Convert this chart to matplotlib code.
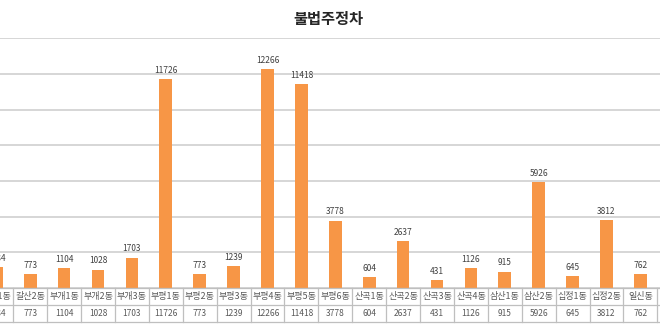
import matplotlib
matplotlib.use("Agg")
import matplotlib.pyplot as plt
import matplotlib.transforms as mtransforms

plt.rcParams['font.family'] = ['Noto Sans CJK KR', 'DejaVu Sans']

categories = ["갈산1동", "갈산2동", "부개1동", "부개2동", "부개3동",
              "부평1동", "부평2동", "부평3동", "부평4동", "부평5동", "부평6동",
              "산곡1동", "산곡2동", "산곡3동", "산곡4동",
              "삼산1동", "삼산2동", "십정1동", "십정2동", "일신동"]
values = [1184, 773, 1104, 1028, 1703,
          11726, 773, 1239, 12266, 11418, 3778,
          604, 2637, 431, 1126,
          915, 5926, 645, 3812, 762]
title = "불법주정차"

bar_color = "#F79646"
grid_color = "#D0D0D0"
table_color = "#BFBFBF"

fig = plt.figure(figsize=(6.6, 3.3), dpi=100)
ax = fig.add_axes([0.0, 0.1273, 1.0, 0.757])

x = list(range(len(categories)))
ax.bar(x, values, width=0.375, color=bar_color, zorder=3)

ax.set_ylim(0, 14000)
ax.set_xlim(0.108, 19.577)
ax.set_yticks(range(0, 14001, 2000))
ax.yaxis.grid(True, color=grid_color, linewidth=1.2, zorder=0)
ax.tick_params(left=False, bottom=False, labelleft=False, labelbottom=False)
for s in ax.spines.values():
    s.set_visible(False)

for xi, v in zip(x, values):
    ax.annotate(str(v), (xi, v), xytext=(0, 3), textcoords="offset points",
                ha="center", va="bottom", fontsize=6, color="#404040",
                annotation_clip=False)

# data table below the axis
trans = mtransforms.blended_transform_factory(ax.transData, ax.transAxes)
row_h = 0.068
for yy in (0, -row_h, -2 * row_h):
    ax.plot([0.108 - 1, 19.577 + 1], [yy, yy], transform=trans, color=table_color,
            linewidth=0.9, clip_on=False, zorder=4)
for i in range(-1, len(categories) + 1):
    ax.plot([i + 0.5, i + 0.5], [0, -2 * row_h], transform=trans, color=table_color,
            linewidth=0.9, clip_on=False, zorder=4)
for xi, c, v in zip(x, categories, values):
    ax.text(xi, -row_h / 2, c, transform=trans, ha="center", va="center",
            fontsize=6.5, color="#595959", clip_on=False)
    ax.text(xi, -1.5 * row_h, str(v), transform=trans, ha="center", va="center",
            fontsize=6, color="#595959", clip_on=False)

fig.text(0.497, 0.943, title, ha="center", va="center", fontsize=11,
         fontweight="bold", color="#262626")

fig.savefig("out.png", dpi=100)
